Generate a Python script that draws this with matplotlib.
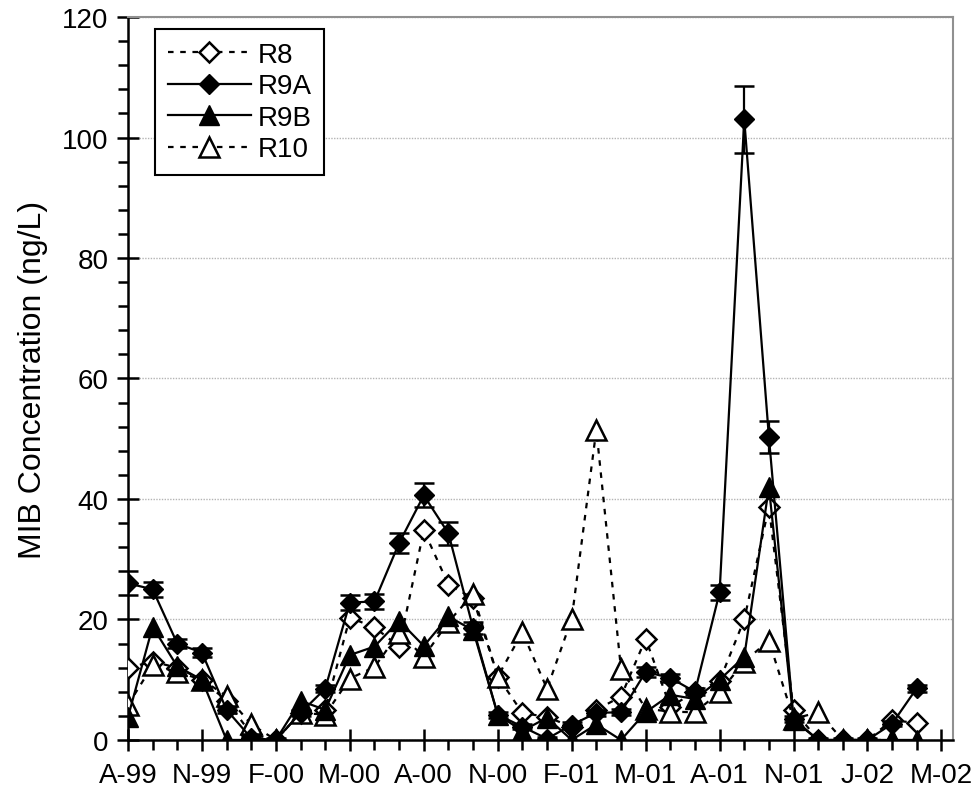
import numpy as np
import matplotlib
matplotlib.use('Agg')
import matplotlib.pyplot as plt
import matplotlib.dates as mdates
import matplotlib.ticker as mticker
from matplotlib.lines import Line2D

# Fechas de muestreo (aprox. cada 30 dias)
fechas = ['1999-08-15', '1999-09-14', '1999-10-14', '1999-11-13', '1999-12-13',
          '2000-01-12', '2000-02-11', '2000-03-12', '2000-04-11', '2000-05-11',
          '2000-06-10', '2000-07-10', '2000-08-09', '2000-09-08', '2000-10-08',
          '2000-11-07', '2000-12-07', '2001-01-06', '2001-02-05', '2001-03-07',
          '2001-04-06', '2001-05-06', '2001-06-05', '2001-07-05', '2001-08-04',
          '2001-09-03', '2001-10-03', '2001-11-02', '2001-12-02', '2002-01-01',
          '2002-01-31', '2002-03-02', '2002-04-01']

r8 = [12, 13, 12, 10, 6.5, 1, 0, 4.5, 5, 20.3, 18.7, 15.5, 34.8, 25.8, 23.5,
      10.5, 4.5, 3.8, 2.2, 5, 7.2, 16.8, 5.5, 8, 9.8, 20, 38.7, 5, 0, 0, 0, 3.3, 2.8]
r9a = [26, 25, 16, 14.5, 5, 0.3, 0, 4.5, 8.5, 22.8, 23, 32.7, 40.6, 34.3, 18.6,
       4.2, 2.2, 0.2, 2.5, 4.5, 4.6, 11.3, 10.3, 8, 24.5, 103, 50.3, 3.5, 0, 0, 0, 2.7, 8.6]
r9a_err = [2, 1.3, 0.8, 0.8, 0.5, 0.3, 0.3, 0.5, 0.6, 1.2, 1.2, 1.7, 2, 1.9, 1,
           0.5, 0.4, 0.3, 0.4, 0.5, 0.5, 0.8, 0.7, 0.6, 1.3, 5.5, 2.7, 0.5, 0.3, 0.3, 0.3, 0.4, 0.6]
r9b = [3.8, 18.8, 12.2, 10, 0, 0, 0, 6.5, 5, 14.1, 15.5, 19.8, 15.6, 20.5, 18.2,
       4.2, 1.5, 3.7, 0, 2.6, 0, 4.6, 7.5, 6.8, 10, 13.8, 42, 3.3, 0, 0, 0, 0, 0]
r10 = [5.8, 12.4, 11.3, 10, 7.3, 2.6, 0, 4.5, 4.2, 10.2, 12.1, 17.8, 13.8, 19.6, 24.2,
       10.5, 17.9, 8.5, 20.1, 51.5, 11.8, 5.2, 4.7, 4.6, 7.9, 13, 16.5, 3.5, 4.6, 0, 0, 0, np.nan]

x = mdates.datestr2num(fechas)
inicio = mdates.datestr2num('1999-08-15')

plt.rcParams['font.family'] = ['Liberation Sans', 'DejaVu Sans']

fig = plt.figure(figsize=(9.8, 8.04), dpi=100)
ax = fig.add_axes([0.1306, 0.0784, 0.8418, 0.8992])

punteado = (0, (2.5, 3))
est_r8 = dict(color='black', linestyle=punteado, linewidth=1.6, marker='D', markersize=10,
              markerfacecolor='white', markeredgecolor='black', markeredgewidth=1.8)
est_r9a = dict(color='black', linestyle='-', linewidth=1.6, marker='D', markersize=10,
               markerfacecolor='black', markeredgecolor='black')
est_r9b = dict(color='black', linestyle='-', linewidth=1.6, marker='^', markersize=15,
               markerfacecolor='black', markeredgecolor='black')
est_r10 = dict(color='black', linestyle=punteado, linewidth=1.6, marker='^', markersize=15,
               markerfacecolor='white', markeredgecolor='black', markeredgewidth=1.8)

ax.plot(x, r8, zorder=3, **est_r8)
ax.plot(x, r10, zorder=3, **est_r10)
ax.errorbar(x, r9a, yerr=r9a_err, capsize=7, capthick=1.8, elinewidth=1.6, zorder=4, **est_r9a)
ax.plot(x, r9b, zorder=4, **est_r9b)

ax.set_xlim(inicio, inicio + 1004)
ax.set_ylim(0, 120)

ax.xaxis.set_major_locator(mticker.FixedLocator(np.arange(inicio, inicio + 1000, 90)))
ax.xaxis.set_minor_locator(mticker.FixedLocator(np.arange(inicio, inicio + 1000, 30)))

def etiqueta_fecha(v, pos):
    d = mdates.num2date(v)
    return d.strftime('%b')[0] + '-' + d.strftime('%y')

ax.xaxis.set_major_formatter(mticker.FuncFormatter(etiqueta_fecha))
ax.yaxis.set_major_locator(mticker.MultipleLocator(20))
ax.yaxis.set_minor_locator(mticker.MultipleLocator(4))

ax.tick_params(which='major', direction='inout', length=16, width=1.8, labelsize=20, pad=6)
ax.tick_params(which='minor', direction='out', length=7, width=1.8)
ax.tick_params(axis='x', which='major', pad=8)

ax.grid(axis='y', which='major', color='#b4b4b4', linestyle=(0, (1, 1)), linewidth=1.0)
for lado in ['left', 'bottom']:
    ax.spines[lado].set_linewidth(1.8)
for lado in ['top', 'right']:
    ax.spines[lado].set_color('#909090')
    ax.spines[lado].set_linewidth(1.5)

ax.set_ylabel('MIB Concentration (ng/L)', fontsize=23, labelpad=10)

manejadores = [Line2D([], [], **est_r8), Line2D([], [], **est_r9a),
               Line2D([], [], **est_r9b), Line2D([], [], **est_r10)]
leg = ax.legend(manejadores, ['R8', 'R9A', 'R9B', 'R10'], loc='upper left',
                bbox_to_anchor=(0.033, 0.983), fontsize=20, handlelength=3.0,
                handletextpad=0.25, labelspacing=0.2, fancybox=False, framealpha=1,
                edgecolor='black', borderpad=0.45, borderaxespad=0)
leg.get_frame().set_linewidth(1.5)

fig.savefig('out.png', dpi=100)
